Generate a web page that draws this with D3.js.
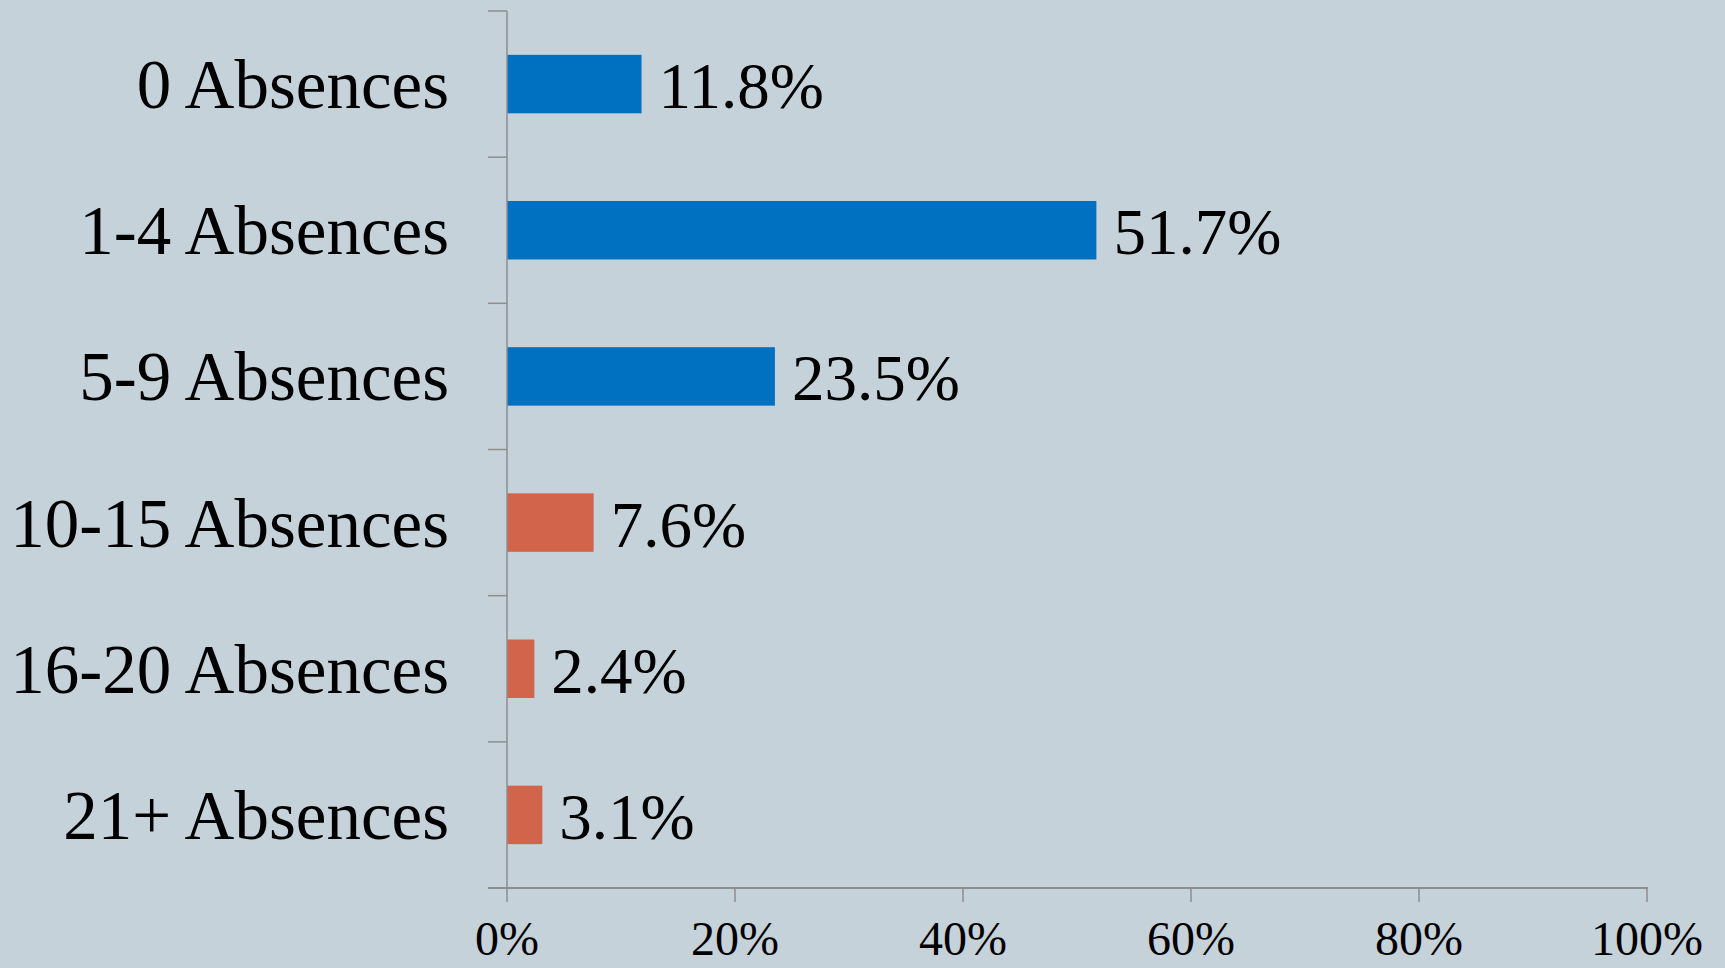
<!DOCTYPE html>
<html>
<head>
<meta charset="utf-8">
<script src="https://cdn.jsdelivr.net/npm/d3@7"></script>
<style>
html,body{margin:0;padding:0;background:#C6D2D9;}
svg{display:block;}
</style>
</head>
<body>
<script>
const categories = ["0 Absences","1-4 Absences","5-9 Absences","10-15 Absences","16-20 Absences","21+ Absences"];
const values = [11.8, 51.7, 23.5, 7.6, 2.4, 3.1];
const barColors = ["#0070C0","#0070C0","#0070C0","#D2644B","#D2644B","#D2644B"];
const xTicks = [0, 20, 40, 60, 80, 100];

(function () {
const W = 1725, H = 968;
const mLeft = 507, mRight = 1647, mTop = 11, mBottom = 888;
const font = "'Liberation Serif', 'DejaVu Serif', serif";

const svg = d3.select("body").append("svg").attr("width", W).attr("height", H);
svg.append("rect").attr("width", W).attr("height", H).attr("fill", "#C6D2D9");

const x = d3.scaleLinear().domain([0, 100]).range([mLeft, mRight]);
const y = d3.scaleBand().domain(categories).range([mTop, mBottom]).padding(0);
const barH = y.bandwidth() * 0.4;

svg.selectAll("rect.bar").data(categories).enter().append("rect")
  .attr("class", "bar")
  .attr("x", x(0))
  .attr("y", d => y(d) + (y.bandwidth() - barH) / 2)
  .attr("width", (d, i) => x(values[i]) - x(0))
  .attr("height", barH)
  .attr("fill", (d, i) => barColors[i]);

svg.selectAll("text.val").data(categories).enter().append("text")
  .attr("class", "val")
  .attr("x", (d, i) => x(values[i]) + 17)
  .attr("y", d => y(d) + y.bandwidth() / 2 + 24)
  .attr("font-family", font).attr("font-size", 65).attr("fill", "#000")
  .text((d, i) => values[i].toFixed(1) + "%");

svg.selectAll("text.cat").data(categories).enter().append("text")
  .attr("class", "cat")
  .attr("x", 449)
  .attr("y", d => y(d) + y.bandwidth() / 2 + 24)
  .attr("text-anchor", "end")
  .attr("font-family", font).attr("font-size", 69).attr("fill", "#000")
  .text(d => d);

const axisColor = "#8E8E8E";
svg.append("line").attr("x1", mLeft).attr("x2", mLeft).attr("y1", mTop).attr("y2", mBottom)
  .attr("stroke", axisColor).attr("stroke-width", 1.5);
const boundaries = categories.map(c => y(c)).concat([mBottom]);
svg.selectAll("line.yt").data(boundaries).enter().append("line")
  .attr("x1", mLeft - 19).attr("x2", mLeft)
  .attr("y1", d => d).attr("y2", d => d)
  .attr("stroke", axisColor).attr("stroke-width", 1.5);

svg.append("line").attr("x1", mLeft - 19).attr("x2", mRight + 1).attr("y1", mBottom).attr("y2", mBottom)
  .attr("stroke", axisColor).attr("stroke-width", 2);
svg.selectAll("line.xt").data(xTicks).enter().append("line")
  .attr("x1", d => x(d)).attr("x2", d => x(d))
  .attr("y1", mBottom).attr("y2", mBottom + 14)
  .attr("stroke", axisColor).attr("stroke-width", 1.5);
svg.selectAll("text.xt").data(xTicks).enter().append("text")
  .attr("x", d => x(d)).attr("y", 955)
  .attr("text-anchor", "middle")
  .attr("font-family", font).attr("font-size", 48).attr("fill", "#000")
  .text(d => d + "%");
})();
</script>
</body>
</html>
